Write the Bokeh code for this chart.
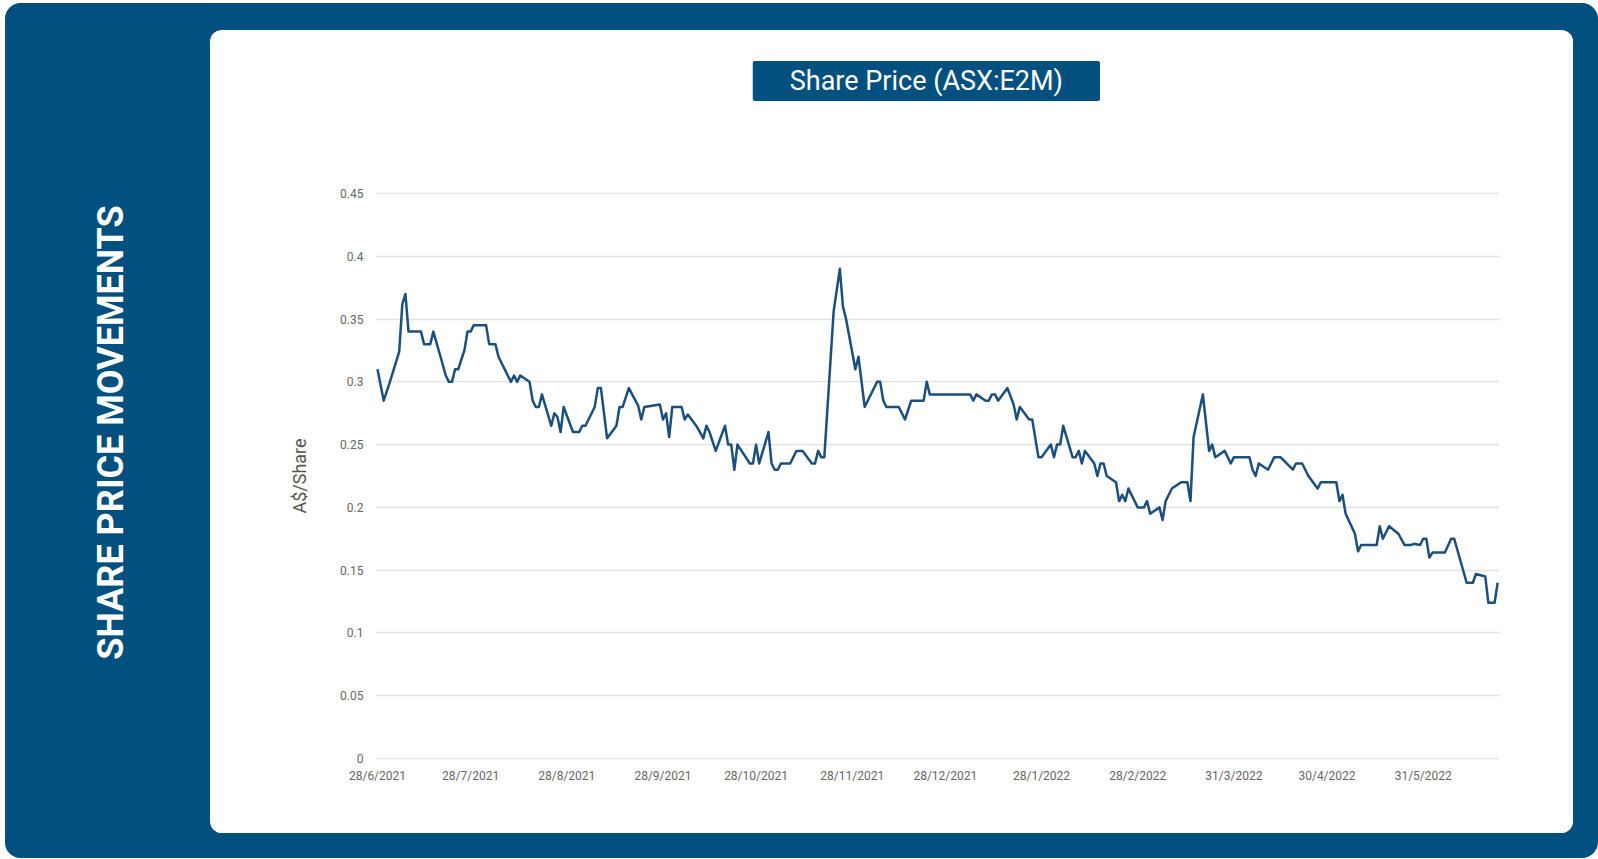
from datetime import datetime, timedelta
from bokeh.plotting import figure
from bokeh.models import (ColumnDataSource, Range1d, FixedTicker, NumeralTickFormatter, Spacer, Label)
from bokeh.layouts import row, column
from bokeh.core.properties import value
from bokeh.embed import file_html
from bokeh.resources import INLINE
import math

# ---------------- data ----------------
start_date = "28/6/2021"
# trading-day offsets (days since 28/6/2021)
day_offset = [0, 2, 4, 7, 8, 9, 10, 14, 15, 17, 18, 21, 22, 23, 24, 25, 26, 28, 29, 30,
              31, 35, 36, 38, 39, 43, 44, 45, 46, 49, 50, 51, 52, 53, 56, 57, 58, 59, 60, 63,
              65, 66, 67, 70, 71, 72, 74, 77, 78, 79, 81, 84, 85, 86, 91, 92, 93, 94, 95, 98,
              99, 100, 103, 105, 106, 107, 109, 112, 113, 114, 115, 116, 120, 121, 122, 123, 126, 127, 128, 129,
              130, 133, 135, 137, 140, 141, 142, 143, 144, 147, 149, 150, 151, 154, 155, 157, 161, 162, 163, 164,
              168, 170, 172, 176, 177, 178, 191, 192, 193, 196, 197, 198, 199, 200, 203, 205, 206, 207, 210, 211,
              213, 214, 217, 218, 219, 220, 221, 224, 225, 226, 227, 228, 231, 232, 233, 234, 235, 238, 239, 240,
              241, 242, 245, 247, 248, 249, 252, 253, 254, 256, 259, 261, 262, 263, 266, 268, 269, 270, 273, 275,
              276, 281, 282, 283, 284, 287, 289, 291, 295, 296, 298, 300, 303, 304, 309, 310, 311, 312, 315, 316,
              317, 322, 323, 324, 326, 329, 331, 333, 334, 336, 337, 338, 339, 340, 344, 346, 347, 351, 353, 354,
              357, 358, 360, 361]
price = [0.310, 0.285, 0.300, 0.324, 0.362, 0.370, 0.340, 0.340, 0.330, 0.330, 0.340, 0.314, 0.305, 0.300, 0.300, 0.310, 0.310, 0.325, 0.340, 0.340,
         0.345, 0.345, 0.330, 0.330, 0.320, 0.300, 0.305, 0.300, 0.305, 0.300, 0.285, 0.280, 0.280, 0.290, 0.265, 0.275, 0.272, 0.260, 0.280, 0.260,
         0.260, 0.265, 0.265, 0.280, 0.295, 0.295, 0.255, 0.265, 0.280, 0.280, 0.295, 0.281, 0.270, 0.280, 0.282, 0.270, 0.275, 0.256, 0.280, 0.280,
         0.270, 0.274, 0.264, 0.255, 0.265, 0.260, 0.245, 0.265, 0.250, 0.250, 0.230, 0.250, 0.235, 0.235, 0.250, 0.235, 0.260, 0.235, 0.230, 0.230,
         0.235, 0.235, 0.245, 0.245, 0.235, 0.235, 0.245, 0.240, 0.240, 0.356, 0.390, 0.360, 0.350, 0.310, 0.320, 0.280, 0.300, 0.300, 0.285, 0.280,
         0.280, 0.270, 0.285, 0.285, 0.300, 0.290, 0.290, 0.285, 0.290, 0.285, 0.285, 0.290, 0.290, 0.285, 0.295, 0.282, 0.270, 0.280, 0.270, 0.270,
         0.240, 0.240, 0.250, 0.240, 0.250, 0.250, 0.265, 0.240, 0.240, 0.245, 0.235, 0.245, 0.235, 0.225, 0.235, 0.235, 0.225, 0.220, 0.205, 0.210,
         0.205, 0.215, 0.200, 0.200, 0.205, 0.195, 0.200, 0.190, 0.205, 0.215, 0.220, 0.220, 0.205, 0.256, 0.290, 0.245, 0.250, 0.240, 0.245, 0.235,
         0.240, 0.240, 0.230, 0.225, 0.235, 0.230, 0.240, 0.240, 0.230, 0.235, 0.235, 0.225, 0.215, 0.220, 0.220, 0.205, 0.210, 0.195, 0.179, 0.165,
         0.170, 0.170, 0.185, 0.175, 0.185, 0.179, 0.170, 0.170, 0.171, 0.170, 0.175, 0.175, 0.160, 0.164, 0.164, 0.175, 0.175, 0.140, 0.140, 0.147,
         0.145, 0.124, 0.124, 0.140]
x_tick_labels = ["28/6/2021", "28/7/2021", "28/8/2021", "28/9/2021", "28/10/2021", "28/11/2021",
                 "28/12/2021", "28/1/2022", "28/2/2022", "31/3/2022", "30/4/2022", "31/5/2022"]
y_ticks = [0, 0.05, 0.1, 0.15, 0.2, 0.25, 0.3, 0.35, 0.4, 0.45]
chart_title = "Share Price (ASX:E2M)"
y_label = "A$/Share"
side_title = "SHARE PRICE MOVEMENTS"

# ---------------- styling ----------------
BLUE = "#02507f"
LINE = "#1b4f7e"
GRID = "#e2e2e2"
TXT = "#666666"
FONT = "Roboto"

t0 = datetime.strptime(start_date, "%d/%m/%Y")
dates = [t0 + timedelta(days=d) for d in day_offset]
src = ColumnDataSource(dict(date=dates, price=price))

def to_ms(dt):
    return (dt - datetime(1970, 1, 1)).total_seconds() * 1000.0

tick_dates = [datetime.strptime(s, "%d/%m/%Y") for s in x_tick_labels]
tick_ms = [to_ms(d) for d in tick_dates]

# ranges padded by ~2px so the frame edge lies just outside the gridlines / data
x_start = t0 - timedelta(days=0.645)
x_end = t0 + timedelta(days=361.59)

CARD_W = 1363
HEAD_H = 110
BODY_H = 693

# ---------------- title strip of the card ----------------
head = figure(width=CARD_W, height=HEAD_H, output_backend="svg", toolbar_location=None, tools="",
              x_range=Range1d(0, CARD_W), y_range=Range1d(0, HEAD_H),
              x_axis_location=None, y_axis_location=None)
head.min_border = 0
head.background_fill_color = "white"
head.border_fill_color = "white"
head.outline_line_color = "white"
head.grid.grid_line_color = None
head.add_layout(Label(x=668, y=59.5, text=chart_title, text_align="center", text_baseline="middle",
                      text_color="white", text_font=FONT, text_font_size="27px",
                      background_fill_color=BLUE, padding=(37, 4), border_radius=2))

# ---------------- chart body of the card ----------------
p = figure(width=CARD_W, height=BODY_H, x_axis_type="datetime", output_backend="svg",
           toolbar_location=None, tools="",
           x_range=Range1d(x_start, x_end),
           y_range=Range1d(-0.0016, 0.4516))
p.min_border_left = 165
p.min_border_right = 74
p.min_border_top = 51
p.min_border_bottom = 73
p.background_fill_color = "white"
p.border_fill_color = "white"
p.outline_line_color = "white"
p.outline_line_width = 4

p.line("date", "price", source=src, line_color=LINE, line_width=2.5, line_join="round")

# x axis
xa = p.xaxis[0]
xa.ticker = FixedTicker(ticks=tick_ms)
xa.major_label_overrides = {ms: lbl for ms, lbl in zip(tick_ms, x_tick_labels)}
xa.axis_line_color = None
xa.major_tick_line_color = None
xa.major_tick_out = 0
xa.major_tick_in = 0
xa.minor_tick_line_color = None
xa.major_label_text_font = FONT
xa.major_label_text_font_size = "12px"
xa.major_label_text_color = TXT
xa.major_label_standoff = 8

# y axis
ya = p.yaxis[0]
ya.ticker = FixedTicker(ticks=y_ticks)
ya.formatter = NumeralTickFormatter(format="0.[00]")
ya.axis_line_color = None
ya.major_tick_line_color = None
ya.major_tick_out = 0
ya.major_tick_in = 0
ya.minor_tick_line_color = None
ya.major_label_text_font = FONT
ya.major_label_text_font_size = "12px"
ya.major_label_text_color = TXT
ya.major_label_standoff = 12
ya.axis_label = y_label
ya.axis_label_text_font = FONT
ya.axis_label_text_font_style = "normal"
ya.axis_label_text_font_size = "18px"
ya.axis_label_text_color = "#555555"
ya.axis_label_standoff = 27

p.xgrid.grid_line_color = None
p.ygrid.grid_line_color = GRID
p.ygrid.grid_line_width = 1.5

card = column(head, p, styles={"background-color": "white", "border-radius": "12px",
                               "overflow": "hidden"})

# ---------------- left blue panel with vertical text ----------------
side = figure(width=205, height=855, output_backend="svg", toolbar_location=None, tools="",
              x_range=Range1d(0, 205), y_range=Range1d(0, 855),
              x_axis_location=None, y_axis_location=None)
side.min_border = 0
side.background_fill_color = BLUE
side.border_fill_color = BLUE
side.outline_line_color = None
side.grid.grid_line_color = None
side.text(x=[105], y=[426], text=[side_title], angle=math.pi / 2,
          text_align="center", text_baseline="middle", text_color="white",
          text_font=value(FONT), text_font_size="36px", text_font_style="bold")

panel = row(side,
            column(Spacer(width=CARD_W, height=27), card, Spacer(width=CARD_W, height=25)),
            Spacer(width=25, height=855),
            styles={"background-color": BLUE, "border-radius": "16px", "overflow": "hidden"})

page = column(Spacer(width=1598, height=3), row(Spacer(width=5, height=855), panel))

open("out.html", "w").write(file_html(page, INLINE))
